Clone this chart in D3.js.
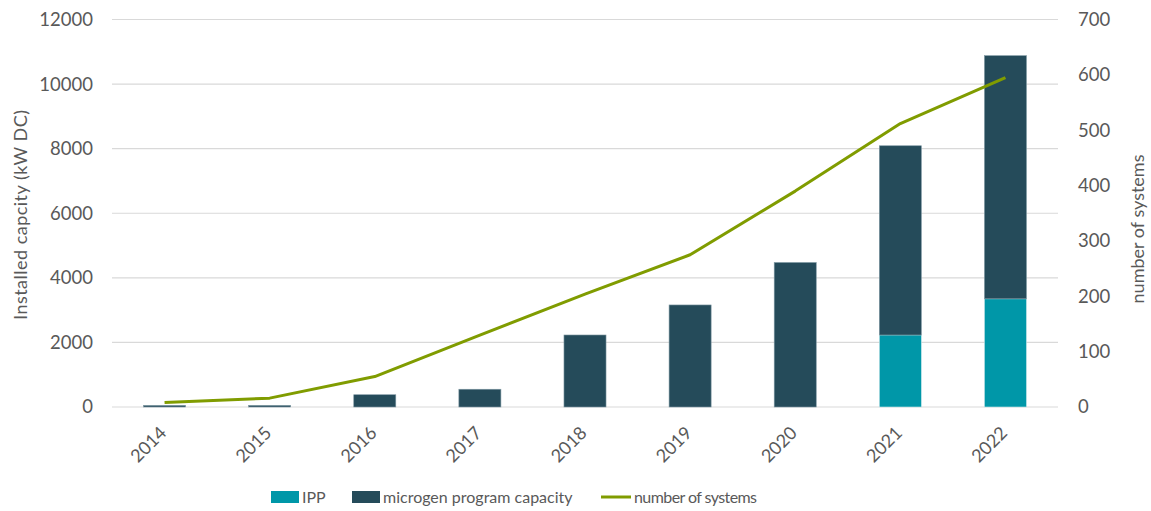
<!DOCTYPE html>
<html><head><meta charset="utf-8">
<script src="https://cdn.jsdelivr.net/npm/d3@7"></script>
<style>body{margin:0;background:#fff}svg{display:block}text{font-family:Lato,"Noto Sans",sans-serif;fill:#595959}</style>
</head><body><svg id="c" width="1151" height="511"></svg>
<script>
const years = ["2014","2015","2016","2017","2018","2019","2020","2021","2022"];
const ipp = [0,0,0,0,0,0,0,2230,3350];
const microgen = [50,50,380,550,2230,3160,4475,5860,7530];
const systems = [8,16,55,130,204,275,390,512,595];
const leftTicks = [0,2000,4000,6000,8000,10000,12000];
const rightTicks = [0,100,200,300,400,500,600,700];

const svg = d3.select("#c");
const L=112, R=1058, T=19.5, B=407;
const FONT = "Lato,'Noto Sans',sans-serif";
const x = d3.scaleBand().domain(years).range([L,R]).paddingInner(0.6).paddingOuter(0.3);
const y = d3.scaleLinear().domain([0,12000]).range([B,T]);
const y2 = d3.scaleLinear().domain([0,700]).range([B,T]);

// gridlines
svg.append("g").selectAll("line").data(leftTicks).join("line")
  .attr("x1",L).attr("x2",R).attr("y1",d=>y(d)).attr("y2",d=>y(d))
  .attr("stroke","#d9d9d9").attr("stroke-width",1.2);

// left axis labels
const ga = svg.append("g").attr("transform",`translate(${L-19},0)`)
  .call(d3.axisLeft(y).tickValues(leftTicks).tickFormat(d3.format("d")).tickSize(0).tickPadding(0));
ga.select(".domain").remove();
ga.selectAll("text").style("font-size","18.5px").attr("fill","#595959").style("font-family",FONT);

const gb = svg.append("g").attr("transform",`translate(${R+20},0)`)
  .call(d3.axisRight(y2).tickValues(rightTicks).tickFormat(d3.format("d")).tickSize(0).tickPadding(0));
gb.select(".domain").remove();
gb.selectAll("text").style("font-size","18.5px").attr("fill","#595959").style("font-family",FONT);

// bars
const data = years.map((yr,i)=>({yr, ipp:ipp[i], mic:microgen[i]}));
const bars = svg.append("g");
bars.selectAll("rect.ipp").data(data.filter(d=>d.ipp>0)).join("rect").attr("class","ipp")
  .attr("x",d=>x(d.yr)).attr("width",x.bandwidth())
  .attr("y",d=>y(d.ipp)).attr("height",d=>y(0)-y(d.ipp))
  .attr("fill","#0097a8").attr("stroke","#c9e6ea").attr("stroke-width",0.6);
bars.selectAll("rect.mic").data(data).join("rect").attr("class","mic")
  .attr("x",d=>x(d.yr)).attr("width",x.bandwidth())
  .attr("y",d=>y(d.ipp+d.mic)).attr("height",d=>y(d.ipp)-y(d.ipp+d.mic))
  .attr("fill","#254b5a").attr("stroke","#7f98a3").attr("stroke-width",0.6);

// line
const line = d3.line().x((d,i)=>x(years[i])+x.bandwidth()/2).y(d=>y2(d));
svg.append("path").datum(systems).attr("d",line).attr("fill","none")
  .attr("stroke","#809c00").attr("stroke-width",3).attr("stroke-linejoin","round");

// x labels
const gx = svg.append("g").attr("transform",`translate(0,${B})`)
  .call(d3.axisBottom(x).tickSize(0).tickPadding(0));
gx.select(".domain").remove();
gx.selectAll("text").style("font-size","18px").attr("fill","#595959").style("font-family",FONT)
  .attr("text-anchor","end").attr("dy","0").attr("dx","0")
  .attr("transform","translate(3,27) rotate(-45)");

// axis titles
svg.append("text").attr("transform","translate(27,215) rotate(-90)").attr("text-anchor","middle")
  .style("font-size","18px").attr("textLength",210).attr("lengthAdjust","spacing").text("Installed capcity (kW DC)");
svg.append("text").attr("transform","translate(1144,229) rotate(-90)").attr("text-anchor","middle")
  .style("font-size","18px").text("number of systems");

// legend
const lg = svg.append("g").attr("transform","translate(0,497)");
lg.append("rect").attr("x",271).attr("y",-6).attr("width",28).attr("height",12).attr("fill","#0097a8");
lg.append("text").attr("x",302).attr("y",6).style("font-size","16px").text("IPP");
lg.append("rect").attr("x",352).attr("y",-6).attr("width",28).attr("height",12).attr("fill","#254b5a");
lg.append("text").attr("x",383).attr("y",6).style("font-size","16px").text("microgen program capacity");
lg.append("line").attr("x1",601).attr("x2",631).attr("y1",0).attr("y2",0).attr("stroke","#809c00").attr("stroke-width",3);
lg.append("text").attr("x",634).attr("y",6).style("font-size","16px").attr("textLength",123).attr("lengthAdjust","spacing").text("number of systems");
</script></body></html>
